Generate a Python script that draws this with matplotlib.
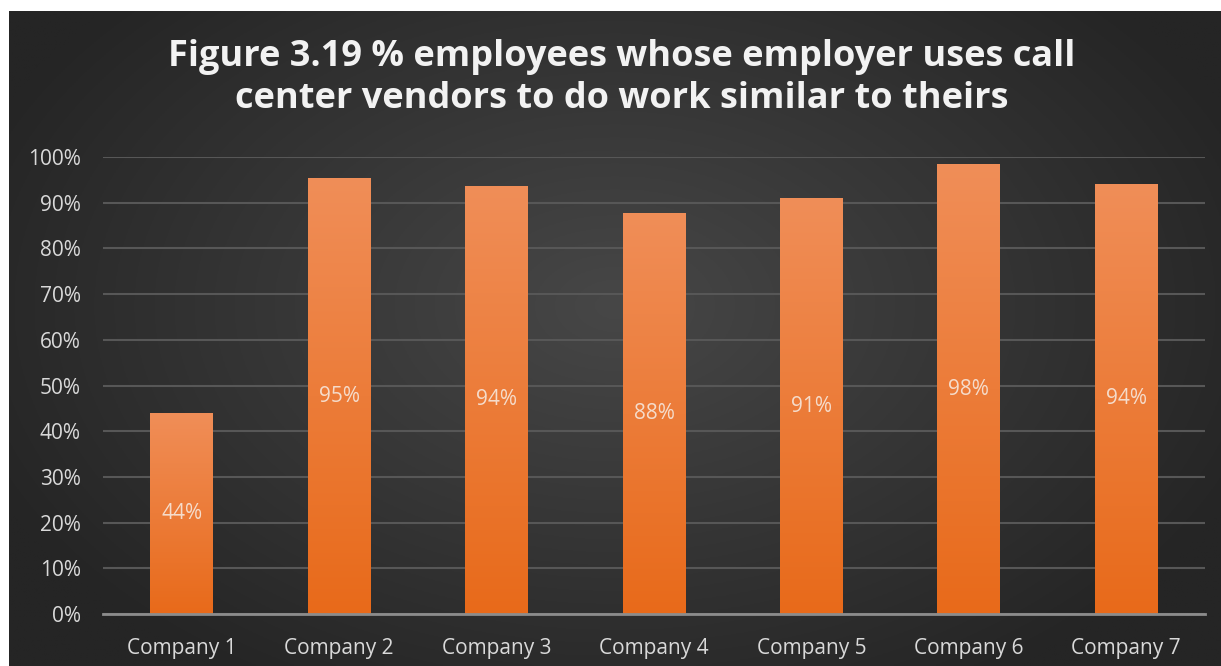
import numpy as np
import matplotlib
matplotlib.use("Agg")
import matplotlib.pyplot as plt
from matplotlib.ticker import PercentFormatter

categories = ["Company 1", "Company 2", "Company 3", "Company 4", "Company 5", "Company 6", "Company 7"]
values = [0.44, 0.953, 0.937, 0.877, 0.91, 0.984, 0.942]
yticks = [0, 0.1, 0.2, 0.3, 0.4, 0.5, 0.6, 0.7, 0.8, 0.9, 1.0]
title = "Figure 3.19 % employees whose employer uses call\ncenter vendors to do work similar to theirs"

W, H = 1221, 666
fig = plt.figure(figsize=(W / 100, H / 100), dpi=100, facecolor="white")

# background with radial gradient
bg = fig.add_axes([9 / W, 0, 1 - 9 / W, (H - 11) / H])
bg.set_axis_off()
yy, xx = np.mgrid[0:1:300j, 0:1:600j]
r = np.sqrt(((xx - 0.5) / 0.75) ** 2 + ((yy - 0.55) / 0.9) ** 2)
r = np.clip(r / 0.75, 0, 1)
c0 = np.array([0x47, 0x47, 0x47]) / 255
c1 = np.array([0x25, 0x25, 0x25]) / 255
img = c0[None, None, :] * (1 - r[..., None]) + c1[None, None, :] * r[..., None]
bg.imshow(img, aspect="auto", extent=[0, 1, 0, 1], origin="lower")
bg.set_xlim(0, 1)
bg.set_ylim(0, 1)

fig.text(0.509, 1 - 78 / H, title, ha="center", va="center", color="#f2f2f2",
         fontsize=26, fontweight="bold", family="Open Sans", linespacing=1.22)

ax = fig.add_axes([103 / W, (H - 614) / H, (1205 - 103) / W, (614 - 157) / H])
ax.set_facecolor("none")
x = np.arange(len(categories))
bars = ax.bar(x, values, width=0.40, color="#ec7a2c", zorder=3)

# vertical gradient in each bar
grad = np.linspace(0, 1, 256)[:, None]
top = np.array([0xf0, 0x8e, 0x58]) / 255
bot = np.array([0xe8, 0x6a, 0x1a]) / 255
gimg = bot[None, None, :] * (1 - grad[..., None]) + top[None, None, :] * grad[..., None]
for b in bars:
    x0, y0 = b.get_x(), b.get_y()
    w, h = b.get_width(), b.get_height()
    im = ax.imshow(gimg, extent=[x0, x0 + w, y0, y0 + h], origin="lower",
                   aspect="auto", zorder=3.5)
    im.set_clip_path(b)

for xi, v in zip(x, values):
    ax.text(xi, v / 2, f"{v * 100:.0f}%", ha="center", va="center",
            color="#f5dccb", fontsize=15, family="Open Sans", zorder=5)

ax.set_xlim(-0.5, len(categories) - 0.5)
ax.set_ylim(0, 1.0)
ax.set_yticks(yticks)
ax.yaxis.set_major_formatter(PercentFormatter(1.0, decimals=0))
ax.set_xticks(x)
ax.set_xticklabels(categories)
ax.tick_params(axis="both", length=0, colors="#d9d9d9", labelsize=15)
ax.tick_params(axis="y", pad=16)
ax.tick_params(axis="x", pad=17)
for lab in ax.get_xticklabels() + ax.get_yticklabels():
    lab.set_family("Open Sans")
ax.grid(axis="y", color="#575757", linewidth=1.5, zorder=0)
for s in ["top", "right", "left"]:
    ax.spines[s].set_visible(False)
ax.spines["bottom"].set_color("#8c8c8c")
ax.spines["bottom"].set_linewidth(2)
ax.spines["bottom"].set_zorder(4)

fig.savefig("out.png", dpi=100, facecolor=fig.get_facecolor())
